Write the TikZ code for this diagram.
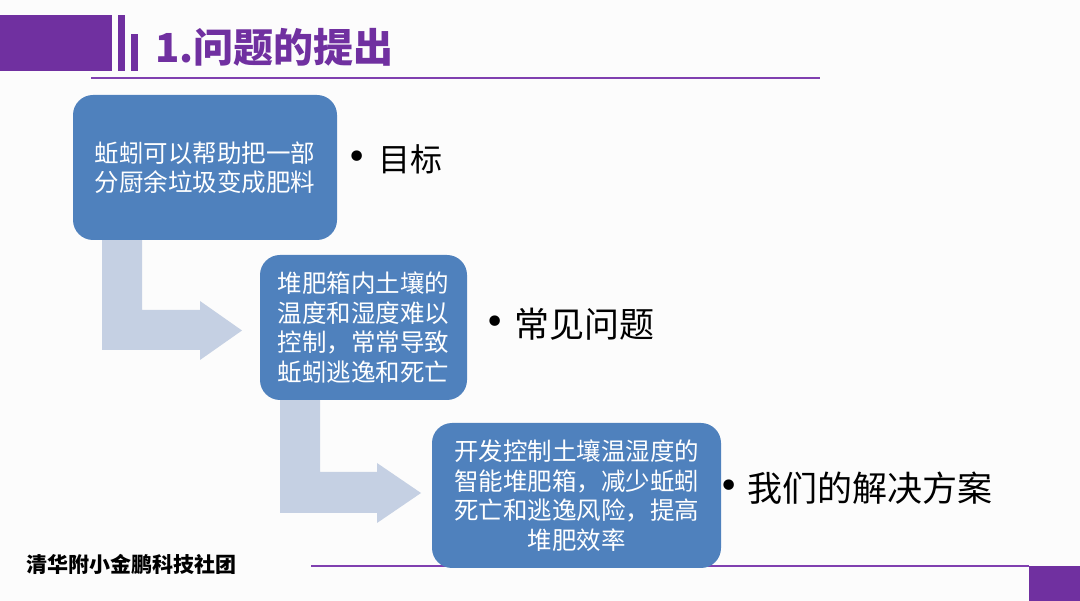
\documentclass[tikz,border=0pt]{standalone}
\usepackage{fontspec}
\newfontfamily\cjk{Noto Sans CJK SC}
\newfontfamily\dv{DejaVu Sans}
\definecolor{bgc}{HTML}{FCFCFC}
\definecolor{purp}{HTML}{7030A0}
\definecolor{purpline}{HTML}{8040B0}
\definecolor{boxblue}{HTML}{4F81BD}
\definecolor{arrowblue}{HTML}{C5D0E3}
\tikzset{
  stepbox/.style={rectangle, rounded corners=20pt, fill=boxblue, draw=none,
    text=white, align=center, inner sep=0pt,
    font=\cjk\fontsize{24.5}{29.5}\selectfont},
  bulletlab/.style={anchor=west, inner sep=0pt, text=black},
  bulletdot/.style={inner sep=0pt, text=black, font=\dv\fontsize{36}{36}\selectfont},
  blockarrow/.style={fill=arrowblue, draw=none}
}
\begin{document}
\begin{tikzpicture}[x=1pt,y=-1pt]
\useasboundingbox (0,0) rectangle (1080,601);
\fill[bgc] (0,0) rectangle (1080,601);
% header decoration
\fill[purp] (0,15) rectangle (112,71);
\fill[purp] (118,15) rectangle (125,71);
\fill[purp] (131,34) rectangle (138,71);
\node[anchor=west, inner sep=0pt, text=purp, font=\cjk\bfseries\fontsize{40}{40}\selectfont] (title) at (155,47) {1.问题的提出};
\draw[purpline, line width=2pt] (91,78) -- (820,78);
% footer
\draw[purpline, line width=2pt] (311,566) -- (1029,566);
\fill[purp] (1029,566) rectangle (1080,601);
\node[anchor=west, inner sep=0pt, text=black, font=\cjk\bfseries\fontsize{21}{21}\selectfont] (footer) at (26,564) {清华附小金鹏科技社团};
% block arrows
\fill[blockarrow] (102,240) -- (142,240) -- (142,310) -- (200,310) -- (200,301) -- (242,330.5) -- (200,360) -- (200,350) -- (102,350) -- cycle;
\fill[blockarrow] (280,400) -- (320,400) -- (320,472) -- (377,472) -- (377,463) -- (421,493) -- (377,523) -- (377,513) -- (280,513) -- cycle;
% boxes
\node[stepbox, minimum width=264pt, minimum height=145pt] (b1) at (205,167.5) {蚯蚓可以帮助把一部\\分厨余垃圾变成肥料};
\node[stepbox, minimum width=207pt, minimum height=145pt] (b2) at (363.5,327.5) {堆肥箱内土壤的\\温度和湿度难以\\控制，常常导致\\蚯蚓逃逸和死亡};
\node[stepbox, minimum width=289pt, minimum height=145pt] (b3) at (576.5,495.5) {开发控制土壤温湿度的\\智能堆肥箱，减少蚯蚓\\死亡和逃逸风险，提高\\堆肥效率};
% labels
\node[bulletdot] (d1) at (357,160) {•};
\node[bulletlab, font=\cjk\fontsize{32}{32}\selectfont] (l1) at (378,159) {目标};
\node[bulletdot] (d2) at (495,325) {•};
\node[bulletlab, font=\cjk\fontsize{35}{35}\selectfont] (l2) at (514,324) {常见问题};
\node[bulletdot] (d3) at (729,489) {•};
\node[bulletlab, font=\cjk\fontsize{35}{35}\selectfont] (l3) at (747,488) {我们的解决方案};
\end{tikzpicture}
\end{document}
